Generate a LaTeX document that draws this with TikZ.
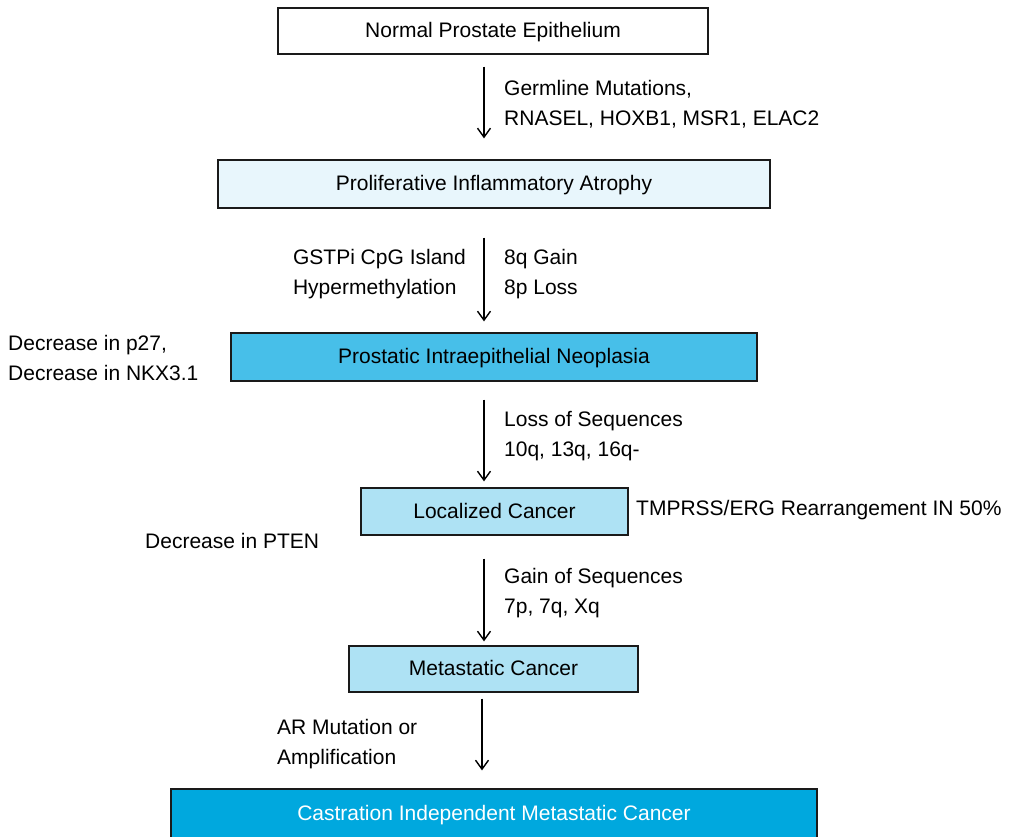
\documentclass[tikz,border=0pt]{standalone}
\usepackage{fontspec}
\setmainfont{Liberation Sans}
\usetikzlibrary{arrows.meta,positioning,calc}
\definecolor{paleblue}{HTML}{E8F6FC}
\definecolor{midcyan}{HTML}{47BFE9}
\definecolor{lightcyan}{HTML}{AEE2F4}
\definecolor{deepcyan}{HTML}{00A8DE}
\definecolor{ink}{HTML}{1A1A1A}
\tikzset{
  stagebox/.style={draw=ink,fill=#1,line width=1.3pt,inner sep=0pt,
    font=\fontsize{21}{30}\selectfont,text height=15pt,text depth=2pt},
  stagebox/.default=white,
  flow/.style={-{Straight Barb[length=9pt,width=13pt,line width=1.4pt]},line width=1.4pt,draw=black},
  note/.style={font=\fontsize{21}{30}\selectfont,align=left,inner sep=0pt},
}
\begin{document}
\begin{tikzpicture}[x=1pt,y=-1pt]
  \clip (0,0) rectangle (1010,836);
  % stages
  \node[stagebox,minimum width=430pt,minimum height=46pt] (norm) at (493,31) {Normal Prostate Epithelium};
  \node[stagebox=paleblue,minimum width=552pt,minimum height=48pt] (pia) at (494,184) {Proliferative Inflammatory Atrophy};
  \node[stagebox=midcyan,minimum width=526pt,minimum height=48pt] (pin) at (494,357) {Prostatic Intraepithelial Neoplasia};
  \node[stagebox=lightcyan,minimum width=267pt,minimum height=47pt] (loc) at (494.5,511.5) {Localized Cancer};
  \node[stagebox=lightcyan,minimum width=289pt,minimum height=46pt] (meta) at (493.5,669) {Metastatic Cancer};
  \node[stagebox=deepcyan,text=white,minimum width=646pt,minimum height=50pt] (crpc) at (494,814) {Castration Independent Metastatic Cancer};
  % events along the way
  \node[note,anchor=west] (germ) at (504,104.5) {Germline Mutations,\\RNASEL, HOXB1, MSR1, ELAC2};
  \node[note,anchor=east] (gstp) at (466,274.5) {GSTPi CpG Island\\Hypermethylation};
  \node[note,anchor=west] (chr8) at (504,274.5) {8q Gain\\8p Loss};
  \node[note,anchor=west] (p27) at (8,357.5) {Decrease in p27,\\Decrease in NKX3.1};
  \node[note,anchor=west] (loss) at (504,436.5) {Loss of Sequences\\10q, 13q, 16q-};
  \node[note,anchor=west] (tmp) at (636,510.5) {TMPRSS/ERG Rearrangement IN 50\%};
  \node[note,anchor=west] (pten) at (145,540.5) {Decrease in PTEN};
  \node[note,anchor=west] (gain) at (504,593.5) {Gain of Sequences\\7p, 7q, Xq};
  \node[note,anchor=west] (ar) at (277,744.5) {AR Mutation or\\Amplification};
  % arrows
  \coordinate (ax) at (484,0);
  \coordinate (bx) at (482,0);
  \foreach \a/\b/\c/\s/\e in {norm/pia/ax/12/21,pia/pin/ax/29/11,pin/loc/ax/18/6,loc/meta/ax/23/4,meta/crpc/bx/6/18}
    \draw[flow,shorten <=\s pt,shorten >=\e pt] (\a.south -| \c) -- (\b.north -| \c);
\end{tikzpicture}
\end{document}
